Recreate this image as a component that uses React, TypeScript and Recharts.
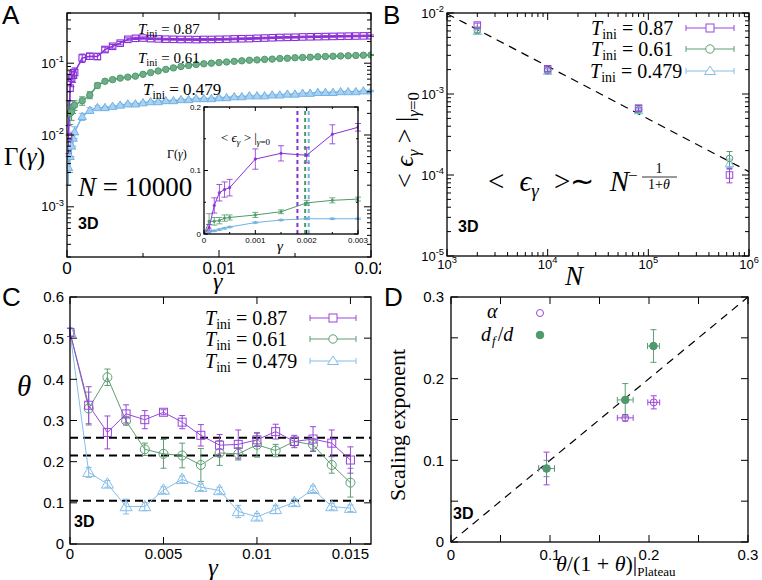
import React from 'react';
import { ComposedChart, Line, Scatter, XAxis, YAxis, ErrorBar, ReferenceLine } from 'recharts';

const SERIF = "'Liberation Serif', 'Times New Roman', serif";
const SANS = "'Liberation Sans', Arial, sans-serif";

const PA = '#8a2fd6';
const GA = '#4e9a6c';
const BA = '#72b2e4';
const PC = '#9a45dc';
const GC = '#5d9e73';
const BC = '#86bde8';

// ---------- Panel A (main) ----------
const gammaA = [0.0001, 0.0002, 0.0003, 0.0004, 0.0005, 0.001, 0.0015, 0.002, 0.0025, 0.003, 0.0035, 0.004, 0.0045, 0.005, 0.0055, 0.006, 0.0065, 0.007, 0.0075, 0.008, 0.0085, 0.009, 0.0095, 0.01, 0.0105, 0.011, 0.0115, 0.012, 0.0125, 0.013, 0.0135, 0.014, 0.0145, 0.015, 0.0155, 0.016, 0.0165, 0.017, 0.0175, 0.018, 0.0185, 0.019, 0.0195, 0.02];
const purpleA = [0.0095, 0.045, 0.062, 0.068, 0.074, 0.118, 0.125, 0.124, 0.155, 0.172, 0.19, 0.215, 0.222, 0.224, 0.22, 0.218, 0.216, 0.215, 0.214, 0.214, 0.213, 0.214, 0.214, 0.215, 0.216, 0.218, 0.219, 0.22, 0.222, 0.224, 0.226, 0.228, 0.229, 0.23, 0.232, 0.233, 0.234, 0.235, 0.236, 0.237, 0.238, 0.239, 0.24, 0.241];
const purpleAErr = [0.004, 0.015, 0.015, 0.014, 0.012, 0.016, 0.012, 0.012, 0.012, 0.01, 0.01, 0.01, 0.008, 0.008, 0.006, 0.006, 0.006, 0.006, 0.006, 0.006, 0.006, 0.006, 0.006, 0.006, 0.006, 0.006, 0.006, 0.006, 0.006, 0.006, 0.006, 0.006, 0.006, 0.006, 0.006, 0.006, 0.006, 0.006, 0.006, 0.006, 0.006, 0.006, 0.006, 0.006];
const greenA = [0.02, 0.02, 0.021, 0.025, 0.026, 0.03, 0.036, 0.049, 0.056, 0.059, 0.062, 0.064, 0.066, 0.07, 0.074, 0.078, 0.082, 0.086, 0.09, 0.093, 0.096, 0.098, 0.1, 0.102, 0.104, 0.106, 0.108, 0.11, 0.111, 0.113, 0.114, 0.116, 0.117, 0.119, 0.12, 0.121, 0.123, 0.124, 0.125, 0.126, 0.127, 0.128, 0.129, 0.13];
const greenAErr = [0.01, 0.006, 0.005, 0.005, 0.004, 0.004, 0.004, 0.004, 0.003, 0.003, 0.003, 0.002, 0.002, 0.002, 0.002, 0.002, 0.002, 0.002, 0.002, 0.002, 0.002, 0.002, 0.002, 0.002, 0.002, 0.002, 0.002, 0.002, 0.002, 0.002, 0.002, 0.002, 0.002, 0.002, 0.002, 0.002, 0.002, 0.002, 0.002, 0.002, 0.002, 0.002, 0.002, 0.002];
const blueA = [0.0035, 0.005, 0.007, 0.009, 0.011, 0.018, 0.022, 0.024, 0.024, 0.025, 0.026, 0.027, 0.027, 0.028, 0.029, 0.029, 0.03, 0.03, 0.031, 0.031, 0.032, 0.032, 0.032, 0.033, 0.033, 0.034, 0.034, 0.035, 0.035, 0.035, 0.036, 0.036, 0.037, 0.037, 0.038, 0.038, 0.039, 0.039, 0.039, 0.04, 0.04, 0.04, 0.041, 0.041];
const blueAErr = [0.0015, 0.002, 0.002, 0.002, 0.002, 0.002, 0.002, 0.0015, 0.001, 0.001, 0.001, 0.001, 0.001, 0.001, 0.001, 0.001, 0.001, 0.001, 0.001, 0.001, 0.001, 0.001, 0.001, 0.001, 0.001, 0.001, 0.001, 0.001, 0.001, 0.001, 0.001, 0.001, 0.001, 0.001, 0.001, 0.001, 0.001, 0.001, 0.001, 0.001, 0.001, 0.001, 0.001, 0.001];

// ---------- Panel A (inset) ----------
const gammaIn = [0, 0.0001, 0.0002, 0.0003, 0.0004, 0.0005, 0.001, 0.0015, 0.002, 0.0025, 0.003];
const purpleIn = [0, 0.01, 0.045, 0.065, 0.07, 0.073, 0.118, 0.127, 0.124, 0.157, 0.168];
const purpleInErr = [0, 0.005, 0.012, 0.013, 0.012, 0.013, 0.016, 0.012, 0.012, 0.015, 0.006];
const greenIn = [0, 0.02, 0.02, 0.021, 0.025, 0.026, 0.03, 0.035, 0.049, 0.053, 0.055];
const greenInErr = [0, 0.012, 0.006, 0.005, 0.005, 0.004, 0.004, 0.003, 0.004, 0.004, 0.003];
const blueIn = [0, 0.003, 0.005, 0.007, 0.009, 0.011, 0.018, 0.022, 0.024, 0.024, 0.024];
const blueInErr = [0, 0.001, 0.001, 0.001, 0.001, 0.001, 0.001, 0.001, 0.001, 0.001, 0.001];
const epsMarkers = [0.00182, 0.00197, 0.00204];

// ---------- Panel B ----------
const sizesB = [2000, 10000, 80000, 640000];
const epsPurple = [0.0071, 0.00205, 0.00067, 0.0001];
const epsPurpleErr = [0.0004, 0.00015, 0.00005, 0.00002];
const epsGreen = [0.0061, 0.00195, 0.00064, 0.00016];
const epsGreenErr = [0.0004, 0.00015, 0.00004, 0.000035];
const epsBlue = [0.0059, 0.0019, 0.00062, 0.000137];
const epsBlueErr = [0.0004, 0.00015, 0.00004, 0.00002];
const fitB = [{ x: 1000, y: 0.0098 }, { x: 1000000, y: 0.00011 }];

// ---------- Panel C ----------
const gammaC = [0, 0.001, 0.002, 0.003, 0.004, 0.005, 0.006, 0.007, 0.008, 0.009, 0.01, 0.011, 0.012, 0.013, 0.014, 0.015];
const thetaPurple = [0.514, 0.337, 0.271, 0.316, 0.302, 0.32, 0.296, 0.264, 0.24, 0.242, 0.253, 0.273, 0.249, 0.255, 0.245, 0.204];
const thetaPurpleErr = [0.01, 0.045, 0.04, 0.022, 0.022, 0.006, 0.016, 0.026, 0.026, 0.035, 0.016, 0.018, 0.015, 0.03, 0.032, 0.032];
const thetaGreen = [0.514, 0.329, 0.405, 0.299, 0.23, 0.219, 0.215, 0.192, 0.221, 0.219, 0.241, 0.227, 0.249, 0.241, 0.192, 0.149];
const thetaGreenErr = [0.01, 0.04, 0.02, 0.01, 0.015, 0.035, 0.03, 0.04, 0.03, 0.015, 0.03, 0.015, 0.01, 0.015, 0.02, 0.035];
const thetaBlue = [0.514, 0.174, 0.146, 0.091, 0.091, 0.131, 0.157, 0.138, 0.13, 0.079, 0.066, 0.084, 0.101, 0.133, 0.091, 0.087];
const thetaBlueErr = [0.01, 0.012, 0.008, 0.018, 0.01, 0.008, 0.008, 0.008, 0.008, 0.015, 0.008, 0.01, 0.008, 0.008, 0.008, 0.008];
const plateaus = [0.258, 0.215, 0.105];

// ---------- Panel D ----------
const alphaX = [0.0965, 0.176, 0.2048];
const alphaY = [0.09, 0.152, 0.171];
const alphaXErr = [0.008, 0.008, 0.006];
const alphaYErr = [0.02, 0.004, 0.008];
const dfX = [0.0965, 0.176, 0.2045];
const dfY = [0.09, 0.174, 0.24];
const dfXErr = [0.008, 0.008, 0.006];
const dfYErr = [0.01, 0.02, 0.02];

// ---------- tables ----------
const rowsA = gammaA.map((g, i) => ({ g, p: purpleA[i], pe: purpleAErr[i], gr: greenA[i], ge: greenAErr[i], b: blueA[i], be: blueAErr[i] }));
const rowsIn = gammaIn.map((g, i) => ({ g, p: purpleIn[i], pe: purpleInErr[i], gr: greenIn[i], ge: greenInErr[i], b: blueIn[i], be: blueInErr[i] }));
const rowsBP = sizesB.map((n, i) => ({ n, v: epsPurple[i], e: epsPurpleErr[i] }));
const rowsBG = sizesB.map((n, i) => ({ n, v: epsGreen[i], e: epsGreenErr[i] }));
const rowsBB = sizesB.map((n, i) => ({ n, v: epsBlue[i], e: epsBlueErr[i] }));
const rowsC = gammaC.map((g, i) => ({ g, p: thetaPurple[i], pe: thetaPurpleErr[i], gr: thetaGreen[i], ge: thetaGreenErr[i], b: thetaBlue[i], be: thetaBlueErr[i] }));
const rowsDA = alphaX.map((x, i) => ({ x, y: alphaY[i], ex: alphaXErr[i], ey: alphaYErr[i] }));
const rowsDF = dfX.map((x, i) => ({ x, y: dfY[i], ex: dfXErr[i], ey: dfYErr[i] }));

// ---------- helpers ----------
type Fr = { l: number; r: number; t: number; b: number };
const near = (v: number, list: number[]) => list.some((m) => Math.abs(m - v) <= Math.abs(m) * 1e-6 + 1e-12);

function logTicks(lo: number, hi: number) {
  const out: number[] = [];
  for (let e = Math.floor(Math.log10(lo)) - 1; e <= Math.ceil(Math.log10(hi)); e++) {
    for (let m = 1; m < 10; m++) {
      const v = m * Math.pow(10, e);
      if (v >= lo * 0.999 && v <= hi * 1.001) out.push(v);
    }
  }
  return out;
}
const decades = (lo: number, hi: number) => logTicks(lo, hi).filter((v) => Math.abs(Math.log10(v) - Math.round(Math.log10(v))) < 1e-6);

const pow10 = (fs: number) => (v: number) => {
  const e = Math.round(Math.log10(v));
  return [
    <tspan key="b">10</tspan>,
    <tspan key="e" dy={-fs * 0.45} fontSize={fs * 0.72}>{String(e)}</tspan>,
  ];
};
const plain = (digits: number) => (v: number) => (v === 0 ? '0' : v.toFixed(digits).replace(/0+$/, ''));

function makeXTick(fr: Fr, majors: number[], label: (v: number) => any, o: { len: number; mlen: number; fs: number; base: number }) {
  return (props: any) => {
    const x = props.x;
    const v = props.payload.value;
    const maj = near(v, majors);
    const L = maj ? o.len : o.mlen;
    return (
      <g>
        <line x1={x} x2={x} y1={fr.b} y2={fr.b - L} stroke="#000" strokeWidth={1} />
        <line x1={x} x2={x} y1={fr.t} y2={fr.t + L} stroke="#000" strokeWidth={1} />
        {maj ? (
          <text x={x} y={o.base} textAnchor="middle" fontSize={o.fs} fontFamily={SANS} fill="#000">{label(v)}</text>
        ) : null}
      </g>
    );
  };
}
function makeYTick(fr: Fr, majors: number[], label: (v: number) => any, o: { len: number; mlen: number; fs: number; right: number }) {
  return (props: any) => {
    const y = props.y;
    const v = props.payload.value;
    const maj = near(v, majors);
    const L = maj ? o.len : o.mlen;
    return (
      <g>
        <line x1={fr.l} x2={fr.l + L} y1={y} y2={y} stroke="#000" strokeWidth={1} />
        <line x1={fr.r} x2={fr.r - L} y1={y} y2={y} stroke="#000" strokeWidth={1} />
        {maj ? (
          <text x={o.right} y={y + o.fs * 0.36} textAnchor="end" fontSize={o.fs} fontFamily={SANS} fill="#000">{label(v)}</text>
        ) : null}
      </g>
    );
  };
}

const sqDot = (c: string, s: number, fill = 'none', sw = 1) => (p: any) =>
  p.cx == null || p.cy == null ? <g key={`n${p.index}`} /> : (
    <rect key={`s${p.index}`} x={p.cx - s / 2} y={p.cy - s / 2} width={s} height={s} fill={fill} stroke={c} strokeWidth={sw} />
  );
const circDot = (c: string, r: number, fill = 'none', sw = 1) => (p: any) =>
  p.cx == null || p.cy == null ? <g key={`n${p.index}`} /> : (
    <circle key={`c${p.index}`} cx={p.cx} cy={p.cy} r={r} fill={fill} stroke={c} strokeWidth={sw} />
  );
const triDot = (c: string, s: number, fill = 'none', sw = 1) => (p: any) =>
  p.cx == null || p.cy == null ? <g key={`n${p.index}`} /> : (
    <path key={`t${p.index}`} d={`M${p.cx},${p.cy - s * 0.62}L${p.cx + s * 0.6},${p.cy + s * 0.42}L${p.cx - s * 0.6},${p.cy + s * 0.42}Z`} fill={fill} stroke={c} strokeWidth={sw} />
  );

// ---------- frames (chart-local) ----------
const FA: Fr = { l: 67, r: 371, t: 13, b: 257 };
const FI: Fr = { l: 39, r: 193, t: 7, b: 134 };
const FB: Fr = { l: 66, r: 368, t: 13, b: 256 };
const FC: Fr = { l: 70, r: 371, t: 17, b: 264 };
const FD: Fr = { l: 70, r: 367, t: 17, b: 262 };

const axisCommon = { tickSize: 0, tickMargin: 0, axisLine: false, tickLine: false, interval: 0 as const, allowDataOverflow: true };

function PanelA() {
  const yT = logTicks(2e-4, 0.5);
  return (
    <ComposedChart width={381} height={290} data={rowsA} margin={{ top: 13, right: 10, bottom: 0, left: 0 }}>
      <XAxis {...axisCommon} type="number" dataKey="g" domain={[0, 0.02]} ticks={[0, 0.005, 0.01, 0.015, 0.02]} height={33}
        tick={makeXTick(FA, [0, 0.01, 0.02], plain(2), { len: 7, mlen: 4, fs: 17, base: 274 })} />
      <YAxis {...axisCommon} type="number" scale="log" domain={[2e-4, 0.5]} ticks={yT} width={67}
        tick={makeYTick(FA, decades(2e-4, 0.5), pow10(13), { len: 7, mlen: 4, fs: 13, right: 64 })} />
      <Line dataKey="b" stroke={BA} strokeWidth={1.5} dot={triDot(BA, 7, '#a9d2f2', 1)} activeDot={false} isAnimationActive={false}>
        <ErrorBar dataKey="be" width={3} stroke={BA} strokeWidth={1} />
      </Line>
      <Line dataKey="gr" stroke={GA} strokeWidth={1.5} dot={circDot(GA, 3.2, '#6fae88', 1)} activeDot={false} isAnimationActive={false}>
        <ErrorBar dataKey="ge" width={3} stroke={GA} strokeWidth={1} />
      </Line>
      <Line dataKey="p" stroke={PA} strokeWidth={1.5} dot={sqDot(PA, 6.5, 'none', 1.1)} activeDot={false} isAnimationActive={false}>
        <ErrorBar dataKey="pe" width={3} stroke={PA} strokeWidth={1} />
      </Line>
    </ComposedChart>
  );
}

function Inset() {
  return (
    <ComposedChart width={215} height={160} data={rowsIn} margin={{ top: 7, right: 22, bottom: 0, left: 0 }}>
      <XAxis {...axisCommon} type="number" dataKey="g" domain={[0, 0.003]} ticks={[0, 0.0005, 0.001, 0.0015, 0.002, 0.0025, 0.003]} height={26}
        tick={makeXTick(FI, [0, 0.001, 0.002, 0.003], plain(3), { len: 4, mlen: 2, fs: 8, base: 143 })} />
      <YAxis {...axisCommon} type="number" domain={[0, 0.2]} ticks={[0, 0.05, 0.1, 0.15, 0.2]} width={39}
        tick={makeYTick(FI, [0, 0.1, 0.2], plain(1), { len: 4, mlen: 2, fs: 8, right: 36 })} />
      {epsMarkers.map((x, i) => (
        <ReferenceLine key={i} x={x} stroke={[PA, GA, BA][i]} strokeWidth={2} strokeDasharray="4 3" />
      ))}
      <Line dataKey="b" stroke={BA} strokeWidth={1} dot={circDot(BA, 1.3, BA, 0.5)} activeDot={false} isAnimationActive={false}>
        <ErrorBar dataKey="be" width={3} stroke={BA} strokeWidth={0.8} />
      </Line>
      <Line dataKey="gr" stroke={GA} strokeWidth={1} dot={circDot(GA, 1.3, GA, 0.5)} activeDot={false} isAnimationActive={false}>
        <ErrorBar dataKey="ge" width={3} stroke={GA} strokeWidth={0.8} />
      </Line>
      <Line dataKey="p" stroke={PA} strokeWidth={1} dot={circDot(PA, 1.3, PA, 0.5)} activeDot={false} isAnimationActive={false}>
        <ErrorBar dataKey="pe" width={3} stroke={PA} strokeWidth={0.8} />
      </Line>
    </ComposedChart>
  );
}

function PanelB() {
  return (
    <ComposedChart width={381} height={290} margin={{ top: 13, right: 13, bottom: 0, left: 0 }}>
      <XAxis {...axisCommon} type="number" dataKey="n" scale="log" domain={[1e3, 1e6]} ticks={logTicks(1e3, 1e6)} height={34}
        tick={makeXTick(FB, decades(1e3, 1e6), pow10(13), { len: 7, mlen: 4, fs: 13, base: 269 })} />
      <YAxis {...axisCommon} type="number" dataKey="v" scale="log" domain={[1e-5, 1e-2]} ticks={logTicks(1e-5, 1e-2)} width={66}
        tick={makeYTick(FB, decades(1e-5, 1e-2), pow10(13), { len: 7, mlen: 4, fs: 13, right: 63 })} />
      <ReferenceLine segment={fitB} stroke="#000" strokeWidth={1.2} strokeDasharray="8 6" />
      <Scatter data={rowsBB} shape={triDot(BC, 7, 'none', 1)} isAnimationActive={false}>
        <ErrorBar dataKey="e" direction="y" width={3} stroke={BC} strokeWidth={1} />
      </Scatter>
      <Scatter data={rowsBG} shape={circDot(GC, 3.3, 'none', 1)} isAnimationActive={false}>
        <ErrorBar dataKey="e" direction="y" width={3} stroke={GC} strokeWidth={1} />
      </Scatter>
      <Scatter data={rowsBP} shape={sqDot(PC, 6.5, 'none', 1)} isAnimationActive={false}>
        <ErrorBar dataKey="e" direction="y" width={3} stroke={PC} strokeWidth={1} />
      </Scatter>
    </ComposedChart>
  );
}

function PanelC() {
  return (
    <ComposedChart width={381} height={300} data={rowsC} margin={{ top: 17, right: 10, bottom: 0, left: 0 }}>
      <XAxis {...axisCommon} type="number" dataKey="g" domain={[0, 0.0161]} ticks={[0, 0.005, 0.01, 0.015]} height={36}
        tick={makeXTick(FC, [0, 0.005, 0.01, 0.015], plain(3), { len: 7, mlen: 4, fs: 15, base: 279 })} />
      <YAxis {...axisCommon} type="number" domain={[0, 0.6]} ticks={[0, 0.1, 0.2, 0.3, 0.4, 0.5, 0.6]} width={70}
        tick={makeYTick(FC, [0, 0.1, 0.2, 0.3, 0.4, 0.5, 0.6], plain(1), { len: 7, mlen: 4, fs: 15, right: 64 })} />
      {plateaus.map((y, i) => (
        <ReferenceLine key={i} y={y} stroke="#000" strokeWidth={2} strokeDasharray="8 5" />
      ))}
      <Line dataKey="b" stroke={BC} strokeWidth={1} dot={triDot(BC, 10, 'none', 1)} activeDot={false} isAnimationActive={false}>
        <ErrorBar dataKey="be" width={3} stroke={BC} strokeWidth={1} />
      </Line>
      <Line dataKey="gr" stroke={GC} strokeWidth={1} dot={circDot(GC, 4.5, 'none', 1)} activeDot={false} isAnimationActive={false}>
        <ErrorBar dataKey="ge" width={3} stroke={GC} strokeWidth={1} />
      </Line>
      <Line dataKey="p" stroke={PC} strokeWidth={1} dot={sqDot(PC, 8, 'none', 1)} activeDot={false} isAnimationActive={false}>
        <ErrorBar dataKey="pe" width={3} stroke={PC} strokeWidth={1} />
      </Line>
    </ComposedChart>
  );
}

function PanelD() {
  return (
    <ComposedChart width={381} height={300} margin={{ top: 17, right: 14, bottom: 0, left: 0 }}>
      <XAxis {...axisCommon} type="number" dataKey="x" domain={[0, 0.3]} ticks={[0, 0.05, 0.1, 0.15, 0.2, 0.25, 0.3]} height={38}
        tick={makeXTick(FD, [0, 0.1, 0.2, 0.3], plain(1), { len: 7, mlen: 7, fs: 15, base: 280 })} />
      <YAxis {...axisCommon} type="number" dataKey="y" domain={[0, 0.3]} ticks={[0, 0.05, 0.1, 0.15, 0.2, 0.25, 0.3]} width={70}
        tick={makeYTick(FD, [0, 0.1, 0.2, 0.3], plain(1), { len: 7, mlen: 7, fs: 15, right: 63 })} />
      <ReferenceLine segment={[{ x: 0, y: 0 }, { x: 0.3, y: 0.3 }]} stroke="#000" strokeWidth={1.2} strokeDasharray="8 6" />
      <Scatter data={rowsDA} shape={circDot(PC, 3.5, 'none', 1)} isAnimationActive={false}>
        <ErrorBar dataKey="ey" direction="y" width={3} stroke={PC} strokeWidth={1} />
        <ErrorBar dataKey="ex" direction="x" width={3} stroke={PC} strokeWidth={1} />
      </Scatter>
      <Scatter data={rowsDF} shape={circDot(GA, 3.8, GA, 1)} isAnimationActive={false}>
        <ErrorBar dataKey="ey" direction="y" width={3} stroke={GC} strokeWidth={1} />
        <ErrorBar dataKey="ex" direction="x" width={3} stroke={GC} strokeWidth={1} />
      </Scatter>
    </ComposedChart>
  );
}

const Tini = ({ x, y, fs, val }: { x: number; y: number; fs: number; val: string }) => (
  <text x={x} y={y} fontFamily={SERIF} fontSize={fs} fill="#000">
    <tspan fontStyle="italic">T</tspan>
    <tspan fontSize={fs * 0.7} dy={fs * 0.22}>ini</tspan>
    <tspan dy={-fs * 0.22}>{' = ' + val}</tspan>
  </text>
);

const LegSym = ({ x1, x2, y, c, kind }: { x1: number; x2: number; y: number; c: string; kind: string }) => {
  const cx = (x1 + x2) / 2;
  return (
    <g stroke={c} fill="none" strokeWidth={1}>
      <line x1={x1} x2={x2} y1={y} y2={y} />
      <line x1={x1} x2={x1} y1={y - 3} y2={y + 3} />
      <line x1={x2} x2={x2} y1={y - 3} y2={y + 3} />
      {kind === 'sq' ? <rect x={cx - 4} y={y - 4} width={8} height={8} fill="#fff" /> : null}
      {kind === 'ci' ? <circle cx={cx} cy={y} r={4.2} fill="#fff" /> : null}
      {kind === 'tr' ? <path d={`M${cx},${y - 5}L${cx + 5.5},${y + 3.5}L${cx - 5.5},${y + 3.5}Z`} fill="#fff" /> : null}
    </g>
  );
};

const box = (l: number, t: number, r: number, b: number) => (
  <rect x={l} y={t} width={r - l} height={b - t} fill="none" stroke="#000" strokeWidth={1.3} />
);

function Overlay() {
  return (
    <svg width={762} height={580} style={{ position: 'absolute', left: 0, top: 0, pointerEvents: 'none' }}>
      {box(67, 13, 371, 257)}
      {box(204, 107, 358, 234)}
      {box(447, 13, 749, 256)}
      {box(70, 297, 371, 544)}
      {box(451, 297, 748, 542)}

      {/* Panel letters */}
      <text x={2} y={24} fontFamily={SANS} fontSize={26} fill="#000">A</text>
      <text x={383} y={24} fontFamily={SANS} fontSize={26} fill="#000">B</text>
      <text x={2} y={306} fontFamily={SANS} fontSize={26} fill="#000">C</text>
      <text x={384} y={306} fontFamily={SANS} fontSize={26} fill="#000">D</text>

      {/* 3D tags */}
      <text x={78} y={229} fontFamily={SANS} fontWeight="bold" fontSize={16} fill="#000">3D</text>
      <text x={458} y={232} fontFamily={SANS} fontWeight="bold" fontSize={16} fill="#000">3D</text>
      <text x={74} y={527} fontFamily={SANS} fontWeight="bold" fontSize={16} fill="#000">3D</text>
      <text x={453} y={519} fontFamily={SANS} fontWeight="bold" fontSize={16} fill="#000">3D</text>

      {/* Panel A texts */}
      <text x={4} y={165} fontFamily={SERIF} fontSize={25} fill="#000">Γ(<tspan fontStyle="italic">γ</tspan>)</text>
      <text x={213} y={289} fontFamily={SERIF} fontSize={24} fontStyle="italic" fill="#000">γ</text>
      <Tini x={138} y={34} fs={15} val="0.87" />
      <Tini x={138} y={63} fs={15} val="0.61" />
      <Tini x={143} y={95} fs={17} val="0.479" />
      <text x={78} y={196} fontFamily={SERIF} fontSize={27} fill="#000"><tspan fontStyle="italic">N</tspan> = 10000</text>
      <text x={167} y={158} fontFamily={SERIF} fontSize={12} fill="#000">Γ(<tspan fontStyle="italic">γ</tspan>)</text>
      <text x={277} y={251} fontFamily={SERIF} fontSize={15} fontStyle="italic" fill="#000">γ</text>
      <text x={221} y={142} fontFamily={SERIF} fontSize={13} fill="#000">
        {'< '}<tspan fontStyle="italic">ϵ</tspan><tspan fontSize={9} dy={3} fontStyle="italic">γ</tspan><tspan dy={-3}>{' > |'}</tspan><tspan fontSize={9} dy={3}><tspan fontStyle="italic">γ</tspan>=0</tspan>
      </text>

      {/* Panel B texts */}
      <text transform="translate(413,140) rotate(-90)" textAnchor="middle" fontFamily={SERIF} fontSize={26} fill="#000">
        {'< '}<tspan fontStyle="italic">ϵ</tspan><tspan fontSize={17} dy={6} fontStyle="italic">γ</tspan><tspan dy={-6}>{' > |'}</tspan><tspan fontSize={17} dy={6}><tspan fontStyle="italic">γ</tspan>=0</tspan>
      </text>
      <text x={574} y={285} textAnchor="middle" fontFamily={SERIF} fontSize={27} fontStyle="italic" fill="#000">N</text>
      <text x={488} y={191} fontFamily={SERIF} fontSize={29} fill="#000" wordSpacing={8}>
        {'< '}<tspan fontStyle="italic">ϵ</tspan><tspan fontSize={19} dy={6} fontStyle="italic">γ</tspan><tspan dy={-6}>{' >∼ '}</tspan><tspan fontStyle="italic">N</tspan>
      </text>
      <text x={628} y={181} fontFamily={SERIF} fontSize={17} fill="#000">−</text>
      <text x={659} y={173} textAnchor="middle" fontFamily={SERIF} fontSize={14} fill="#000">1</text>
      <line x1={642} x2={677} y1={177} y2={177} stroke="#000" strokeWidth={0.8} />
      <text x={659} y={189} textAnchor="middle" fontFamily={SERIF} fontSize={14} fill="#000">1+<tspan fontStyle="italic">θ</tspan></text>
      <Tini x={591} y={35} fs={20} val="0.87" />
      <Tini x={591} y={56} fs={20} val="0.61" />
      <Tini x={590} y={78} fs={20} val="0.479" />
      <LegSym x1={686} x2={734} y={28} c={PC} kind="sq" />
      <LegSym x1={686} x2={734} y={49} c={GC} kind="ci" />
      <LegSym x1={686} x2={734} y={71} c={BC} kind="tr" />

      {/* Panel C texts */}
      <text x={17} y={396} fontFamily={SERIF} fontSize={29} fontStyle="italic" fill="#000">θ</text>
      <text x={213} y={576} textAnchor="middle" fontFamily={SERIF} fontSize={25} fontStyle="italic" fill="#000">γ</text>
      <Tini x={205} y={325} fs={20} val="0.87" />
      <Tini x={205} y={346} fs={20} val="0.61" />
      <Tini x={205} y={368} fs={20} val="0.479" />
      <LegSym x1={310} x2={356} y={318} c={PC} kind="sq" />
      <LegSym x1={310} x2={356} y={339} c={GC} kind="ci" />
      <LegSym x1={310} x2={356} y={361} c={BC} kind="tr" />

      {/* Panel D texts */}
      <text transform="translate(405,425) rotate(-90)" textAnchor="middle" fontFamily={SERIF} fontSize={22} fill="#000">Scaling exponent</text>
      <text x={556} y={571} fontFamily={SERIF} fontSize={22} fill="#000">
        <tspan fontStyle="italic">θ</tspan>/(1 + <tspan fontStyle="italic">θ</tspan>)|<tspan fontSize={13} dy={5}>Plateau</tspan>
      </text>
      <text x={487} y={318} fontFamily={SERIF} fontSize={20} fontStyle="italic" fill="#000">α</text>
      <circle cx={540} cy={313} r={3.5} fill="none" stroke={PC} strokeWidth={1} />
      <text x={481} y={341} fontFamily={SERIF} fontSize={20} fill="#000">
        <tspan fontStyle="italic">d</tspan><tspan fontSize={13} dy={4} dx={1} fontStyle="italic">f</tspan><tspan dy={-4} dx={2}>/</tspan><tspan fontStyle="italic">d</tspan>
      </text>
      <circle cx={540} cy={335} r={3.8} fill={GA} stroke={GA} strokeWidth={1} />
    </svg>
  );
}

export default function App() {
  return (
    <div style={{ position: 'absolute', left: 0, top: 0, width: 762, height: 580, background: '#fff', overflow: 'hidden' }}>
      <div style={{ position: 'absolute', left: 0, top: 0 }}><PanelA /></div>
      <div style={{ position: 'absolute', left: 165, top: 100 }}><Inset /></div>
      <div style={{ position: 'absolute', left: 381, top: 0 }}><PanelB /></div>
      <div style={{ position: 'absolute', left: 0, top: 280 }}><PanelC /></div>
      <div style={{ position: 'absolute', left: 381, top: 280 }}><PanelD /></div>
      <Overlay />
    </div>
  );
}
